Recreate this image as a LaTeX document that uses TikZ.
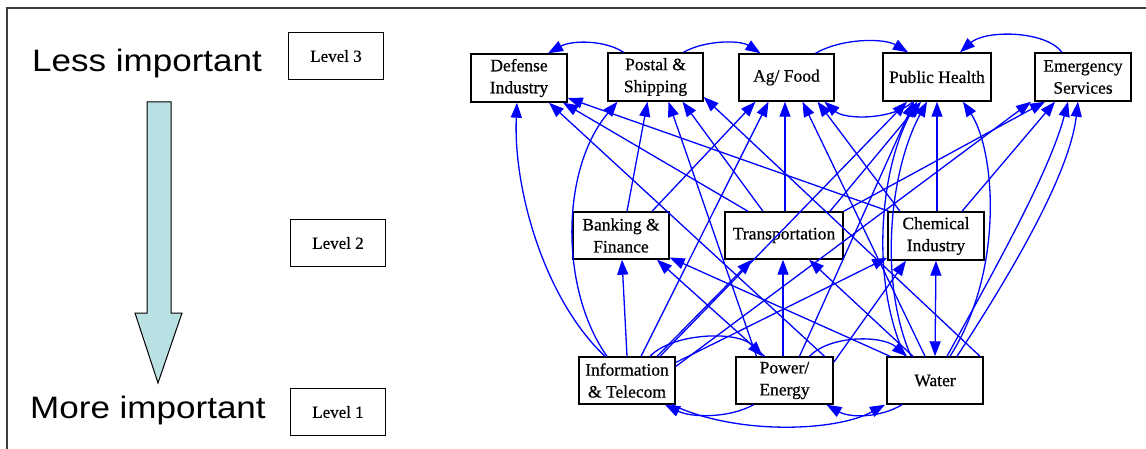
\documentclass[tikz,border=0pt]{standalone}
\usepackage{fontspec}
\setmainfont{Liberation Serif}
\newfontfamily\arialf{Liberation Sans}
\newfontfamily\nodef[FakeBold=0.6]{Liberation Serif}
\usetikzlibrary{arrows.meta,calc}
\definecolor{arrowfill}{RGB}{185,224,226}
\definecolor{framec}{RGB}{60,60,60}
\begin{document}
\begin{tikzpicture}[x=1pt,y=-1pt,
  box/.style={draw, line width=1.4pt, align=center, inner sep=0pt, font=\nodef\fontsize{17.5}{22}\selectfont},
  lvl/.style={draw, line width=1.1pt, align=center, inner sep=0pt, minimum width=95pt, minimum height=47pt, font=\nodef\fontsize{17}{20}\selectfont},
  big/.style={anchor=base west, inner sep=0pt, font=\arialf\fontsize{31}{31}\selectfont},
  e/.style={draw=blue, line width=1.3pt, -{Triangle[length=15pt,width=11pt]}},
  ee/.style={draw=blue, line width=1.3pt, {Triangle[length=15pt,width=11pt]}-{Triangle[length=15pt,width=11pt]}}
]
\useasboundingbox (0,0) rectangle (1146,449);
\draw[framec, line width=1.3pt] (7,449) -- (7,8) -- (1146,8);

% left legend
\node[big] (less) at (32,72) {\scalebox{1.13}[1]{Less important}};
\node[big] (more) at (30,418) {\scalebox{1.13}[1]{More important}};
\draw[line width=1pt, fill=arrowfill] (147,102) -- (171,102) -- (171,313) -- (182,313) -- (158,383) -- (135,313) -- (147,313) -- cycle;
\node[lvl] (l3) at (336,56) {Level 3};
\node[lvl] (l2) at (338,243) {Level 2};
\node[lvl] (l1) at (338,412) {Level 1};

% graph nodes
\node[box, minimum width=96pt, minimum height=48pt] (def) at (519,78) {Defense\\Industry};
\node[box, minimum width=95pt, minimum height=48pt] (post) at (655.5,77) {Postal \&\\Shipping};
\node[box, minimum width=95pt, minimum height=47pt] (ag) at (786.5,77.5) {Ag/ Food};
\node[box, minimum width=108pt, minimum height=48pt] (ph) at (937,77) {Public Health};
\node[box, minimum width=96pt, minimum height=48pt] (em) at (1083,77) {Emergency\\Services};
\node[box, minimum width=96pt, minimum height=47pt] (bank) at (621,235.5) {Banking \&\\Finance};
\node[box, minimum width=118pt, minimum height=47pt] (trans) at (784,235.5) {Transportation};
\node[box, minimum width=96pt, minimum height=48pt] (chem) at (936,236) {Chemical\\Industry};
\node[box, minimum width=96pt, minimum height=47pt] (info) at (627,380.5) {Information\\\& Telecom};
\node[box, minimum width=97pt, minimum height=47pt] (pow) at (784.5,380.5) {Power/\\Energy};
\node[box, minimum width=96pt, minimum height=47pt] (wat) at (935,380.5) {Water};

% top-level arcs
\draw[e] ($(post.north)+(-32,0)$) .. controls (605,40) and (572,40) .. ($(def.north)+(29,0)$);
\draw[e] ($(post.north)+(28,0)$) .. controls (705,40) and (740,40) .. ($(ag.north)+(-26,0)$);
\draw[e] ($(ag.north)+(29,0)$) .. controls (842,38) and (884,38) .. ($(ph.north)+(-29,0)$);
\draw[e] ($(em.north)+(-21,0)$) .. controls (1045,30) and (985,30) .. ($(ph.north)+(23,0)$);
\draw[e] ($(ph.south)+(-24,0)$) .. controls (893,120) and (845,120) .. ($(ag.south)+(38,0)$);

% into Defense
\draw[e] ($(info.north)+(-22,0)$) .. controls (545,300) and (513,190) .. ($(def.south)+(-2,0)$);
\draw[e] ($(pow.north)+(40,0)$) -- ($(def.south)+(30,0)$);
\draw[e] ($(trans.north)+(-36,0)$) -- ($(def.south)+(44,0)$);
\draw[e] ($(chem.north)+(-47,0)$) -- ($(def.east)+(0,20)$);

% into Postal
\draw[e] ($(info.north)+(-20,0)$) .. controls (560,290) and (560,170) .. ($(post.south)+(-38,0)$);
\draw[e] ($(bank.north)+(6,0)$) -- ($(post.south)+(-8,0)$);
\draw[e] ($(pow.north)+(-28,0)$) -- ($(post.south)+(13,0)$);
\draw[e] ($(trans.north)+(-21,0)$) -- ($(post.south)+(27,0)$);
\draw[e] ($(wat.north)+(45,0)$) -- ($(post.east)+(0,20)$);

% into Ag/Food
\draw[e] ($(bank.north)+(31,0)$) -- ($(ag.south)+(-31,0)$);
\draw[e] ($(info.north)+(14,0)$) -- ($(ag.south)+(-18,0)$);
\draw[e] ($(trans.north)+(1,0)$) -- ($(ag.south)+(-1.5,0)$);
\draw[e] ($(wat.north)+(-10,0)$) -- ($(ag.south)+(16,0)$);
\draw[e] ($(chem.north)+(-36,0)$) -- ($(ag.south)+(31,0)$);

% into Public Health
\draw[e] ($(info.north)+(33,0)$) -- ($(ph.south)+(-30,0)$);
\draw[e] ($(pow.north)+(15,0)$) -- ($(ph.south)+(-23,0)$);
\draw[e] ($(trans.north)+(46,0)$) -- ($(ph.south)+(-16,0)$);
\draw[e] ($(chem.north)+(1,0)$) -- (ph.south);
\draw[e] ($(wat.north)+(-30,0)$) .. controls (870,280) and (880,170) .. ($(ph.south)+(-20,0)$);
\draw[e] ($(wat.north)+(-24,0)$) .. controls (878,280) and (890,170) .. ($(ph.south)+(-10,0)$);
\draw[e] ($(wat.north)+(15,0)$) .. controls (1005,270) and (995,150) .. ($(ph.south)+(26,0)$);

% into Emergency
\draw[e] ($(info.east)+(0,-14)$) -- ($(em.south)+(-52,0)$);
\draw[e] (trans.north east) -- ($(em.south)+(-38,0)$);
\draw[e] ($(chem.north)+(26,0)$) -- ($(em.south)+(-28,0)$);
\draw[e] ($(wat.north)+(12,0)$) .. controls (1000,260) and (1050,170) .. ($(em.south)+(-15,0)$);
\draw[e] ($(wat.north)+(22,0)$) .. controls (1020,260) and (1070,170) .. ($(em.south)+(-5,0)$);

% into level 2
\draw[e] (info.north) -- ($(bank.south)+(1,0)$);
\draw[e] ($(pow.north)+(-20,0)$) -- ($(bank.south)+(36,0)$);
\draw[e] ($(wat.north)+(-45,0)$) -- ($(bank.east)+(0,22)$);
\draw[e] ($(info.north)+(30,0)$) -- ($(trans.south)+(-32,0)$);
\draw[e] ($(pow.north)+(-1.5,0)$) -- ($(trans.south)+(-1,0)$);
\draw[e] ($(wat.north)+(-22,0)$) -- ($(trans.south)+(25,0)$);
\draw[e] ($(info.east)+(0,-18)$) -- ($(chem.south west)+(0,-3)$);
\draw[e] ($(pow.north east)+(0,6)$) -- ($(chem.south)+(-30,0)$);
\draw[ee] (chem.south) -- (wat.north);

% level 1 arcs
\draw[e] ($(info.north)+(23,0)$) .. controls (672,333) and (738,330) .. ($(pow.north)+(-22,0)$);
\draw[e] ($(pow.north)+(25,0)$) .. controls (830,335) and (882,335) .. ($(wat.north)+(-28,0)$);
\draw[e] ($(pow.south)+(-31,0)$) .. controls (730,418) and (692,418) .. ($(info.south)+(38,0)$);
\draw[e] ($(info.south)+(45,0)$) .. controls (735,435) and (835,432) .. ($(wat.south)+(-50,0)$);
\draw[e] ($(wat.south)+(-33,0)$) .. controls (880,418) and (850,418) .. ($(pow.south)+(42,0)$);
\end{tikzpicture}
\end{document}
